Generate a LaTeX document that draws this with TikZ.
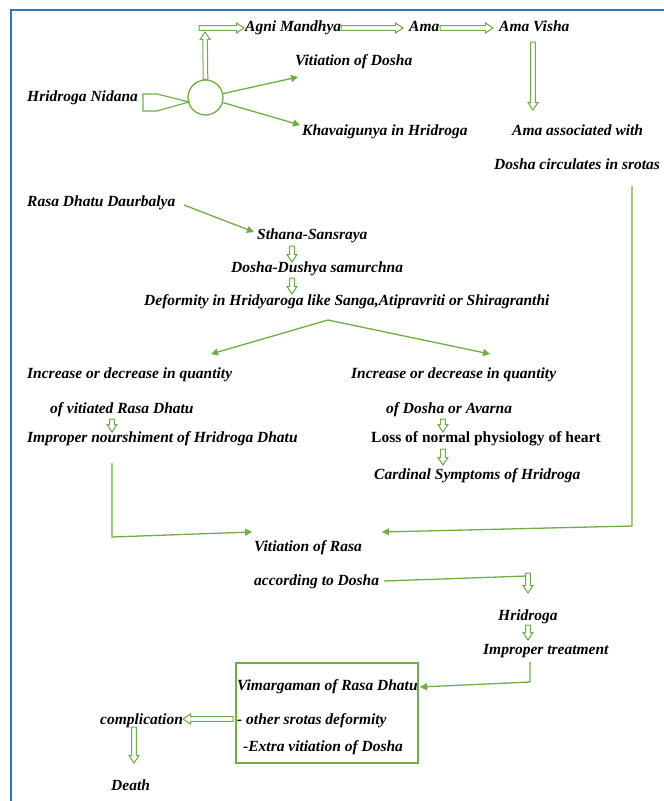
\documentclass[tikz,border=0pt]{standalone}
\usepackage{fontspec}
\setmainfont{Liberation Serif}
\usetikzlibrary{calc,arrows.meta}
\definecolor{gr}{RGB}{112,173,71}
\definecolor{fr}{RGB}{46,117,182}
\tikzset{
  lbl/.style={font=\fontsize{15.5}{18}\selectfont\bfseries\itshape, inner sep=0pt, anchor=west, text height=11pt, text depth=3.5pt},
  lblup/.style={lbl, font=\fontsize{15.5}{18}\selectfont\bfseries},
  con/.style={draw=gr, line width=1.3pt, -{Triangle[length=7pt,width=7pt]}},
  ln/.style={draw=gr, line width=1.3pt},
  hol/.style={draw=gr, line width=1pt, fill=white, line join=miter},
  frameline/.style={draw=fr, line width=2pt},
  boxst/.style={draw=gr, line width=1.8pt},
}
\newcommand\hollowarr[2]{%
  \path ($(#2)!7.5pt!(#1)$) coordinate (hbx);
  \draw[hol] ($(#1)!2.3pt!90:(#2)$) -- ($(hbx)!2.3pt!90:(#2)$) -- ($(hbx)!5pt!90:(#2)$) -- (#2)
    -- ($(hbx)!5pt!-90:(#2)$) -- ($(hbx)!2.3pt!-90:(#2)$) -- ($(#1)!2.3pt!-90:(#2)$) -- cycle;}
\begin{document}
\begin{tikzpicture}[x=1pt,y=-1pt]
\useasboundingbox (0,0) rectangle (664,801);
\draw[frameline] (11,801) -- (11,10) -- (664,10);

% top part
\node[lbl] (agni) at (245,28) {Agni Mandhya};
\node[lbl] (ama) at (409,28) {Ama};
\node[lbl] (amav) at (499,28) {Ama Visha};
\node[lbl] (vdosha) at (295,62) {Vitiation of Dosha};
\node[lbl] (nidana) at (27,98) {Hridroga Nidana};
\node[lbl] (khav) at (302,132) {Khavaigunya in Hridroga};
\node[lbl] (amaas) at (512,132) {Ama associated with};
\node[lbl] (circ) at (494,166) {Dosha circulates in srotas};
\node[draw=gr, circle, line width=1.3pt, minimum size=35pt, inner sep=0pt] (hub) at (205.5,97.5) {};

\coordinate (fun) at (189,102);
\draw[ln, line width=1.1pt] (fun) -- (157,94) -- (143,94) -- (143,111) -- (157,111) -- cycle;

\coordinate (v1) at (205,32);
\hollowarr{hub.north}{v1}
\coordinate (h0) at (199,28);
\coordinate (h1) at (244,28);
\hollowarr{h0}{h1}
\coordinate (a0) at (341,28);
\coordinate (a1) at (403,28);
\hollowarr{a0}{a1}
\coordinate (b0) at (440,28);
\coordinate (b1) at (493,28);
\hollowarr{b0}{b1}
\coordinate (c0) at (533,42);
\coordinate (c1) at (533,110);
\hollowarr{c0}{c1}

\coordinate (vdt) at (298,77);
\coordinate (kht) at (300,125);
\draw[con] ($(hub.center)!17.5pt!(vdt)$) -- (vdt);
\draw[con] ($(hub.center)!17.5pt!(kht)$) -- (kht);

% middle part
\node[lbl] (rasa) at (27,203) {Rasa Dhatu Daurbalya};
\node[lbl] (sthana) at (257,236) {Sthana-Sansraya};
\node[lbl] (ddush) at (231,269) {Dosha-Dushya samurchna};
\node[lbl] (deform) at (144,302) {Deformity in Hridyaroga like Sanga,Atipravriti or Shiragranthi};

\coordinate (r0) at (184,205);
\coordinate (r1) at (254,232);
\draw[con] (r0) -- (r1);
\coordinate (s0) at (292,246);
\coordinate (s1) at (292,262);
\hollowarr{s0}{s1}
\coordinate (d0) at (292,278);
\coordinate (d1) at (292,294);
\hollowarr{d0}{d1}

\coordinate (apex) at (328,320);
\coordinate (vl) at (211,354);
\coordinate (vr) at (490,354);
\draw[con] (apex) -- (vl);
\draw[con] (apex) -- (vr);

\node[lbl] (incl) at (27,375) {Increase or decrease in quantity};
\node[lbl] (incr) at (351,375) {Increase or decrease in quantity};
\node[lbl] (ofvit) at (50,410) {of vitiated Rasa Dhatu};
\node[lbl] (impn) at (27,439) {Improper nourshiment of Hridroga Dhatu};
\node[lbl] (ofdos) at (386,410) {of Dosha or Avarna};
\node[lblup] (loss) at (371,439) {Loss of normal physiology of heart};
\node[lbl] (card) at (374,476) {Cardinal Symptoms of Hridroga};

\coordinate (e0) at (112,419);
\coordinate (e1) at (112,432);
\hollowarr{e0}{e1}
\coordinate (f0) at (443,419);
\coordinate (f1) at (443,432);
\hollowarr{f0}{f1}
\coordinate (g0) at (443,449);
\coordinate (g1) at (443,465);
\hollowarr{g0}{g1}

% lower part
\node[lbl] (vrasa) at (254,548) {Vitiation of Rasa};
\node[lbl] (acc) at (254,582) {according to Dosha};
\node[lbl] (hrid) at (498,617) {Hridroga};
\node[lbl] (imptr) at (483,651) {Improper treatment};

\coordinate (lt) at (112,463);
\coordinate (lc) at (112,537);
\coordinate (ltip) at (252,532);
\draw[con] (lt) -- (lc) -- (ltip);
\coordinate (rt) at (632,186);
\coordinate (rc) at (632,526);
\coordinate (rtip) at (382,532);
\draw[con] (rt) -- (rc) -- (rtip);

\coordinate (k0) at (384,581);
\coordinate (k1) at (527,576);
\draw[ln] (k0) -- (k1);
\coordinate (m0) at (528,573);
\coordinate (m1) at (528,593);
\hollowarr{m0}{m1}
\coordinate (n0) at (528,625);
\coordinate (n1) at (528,640);
\hollowarr{n0}{n1}

\node[boxst, minimum width=182pt, minimum height=100pt, inner sep=0pt, anchor=north west] (vbox) at (235,662) {};
\node[lbl] (vim) at (237,687) {Vimargaman of Rasa Dhatu};
\node[lbl] (oth) at (237,721) {- other srotas deformity};
\node[lbl] (ext) at (243,748) {-Extra vitiation of Dosha};

\coordinate (p0) at (530,662);
\coordinate (p1) at (530,682);
\coordinate (ptip) at (420,687);
\draw[con] (p0) -- (p1) -- (ptip);

\node[lbl] (comp) at (100,721) {complication};
\node[lbl] (death) at (111,787) {Death};
\coordinate (q0) at (233,719);
\coordinate (q1) at (183,719);
\hollowarr{q0}{q1}
\coordinate (t0) at (134,727);
\coordinate (t1) at (134,763);
\hollowarr{t0}{t1}
\end{tikzpicture}
\end{document}
